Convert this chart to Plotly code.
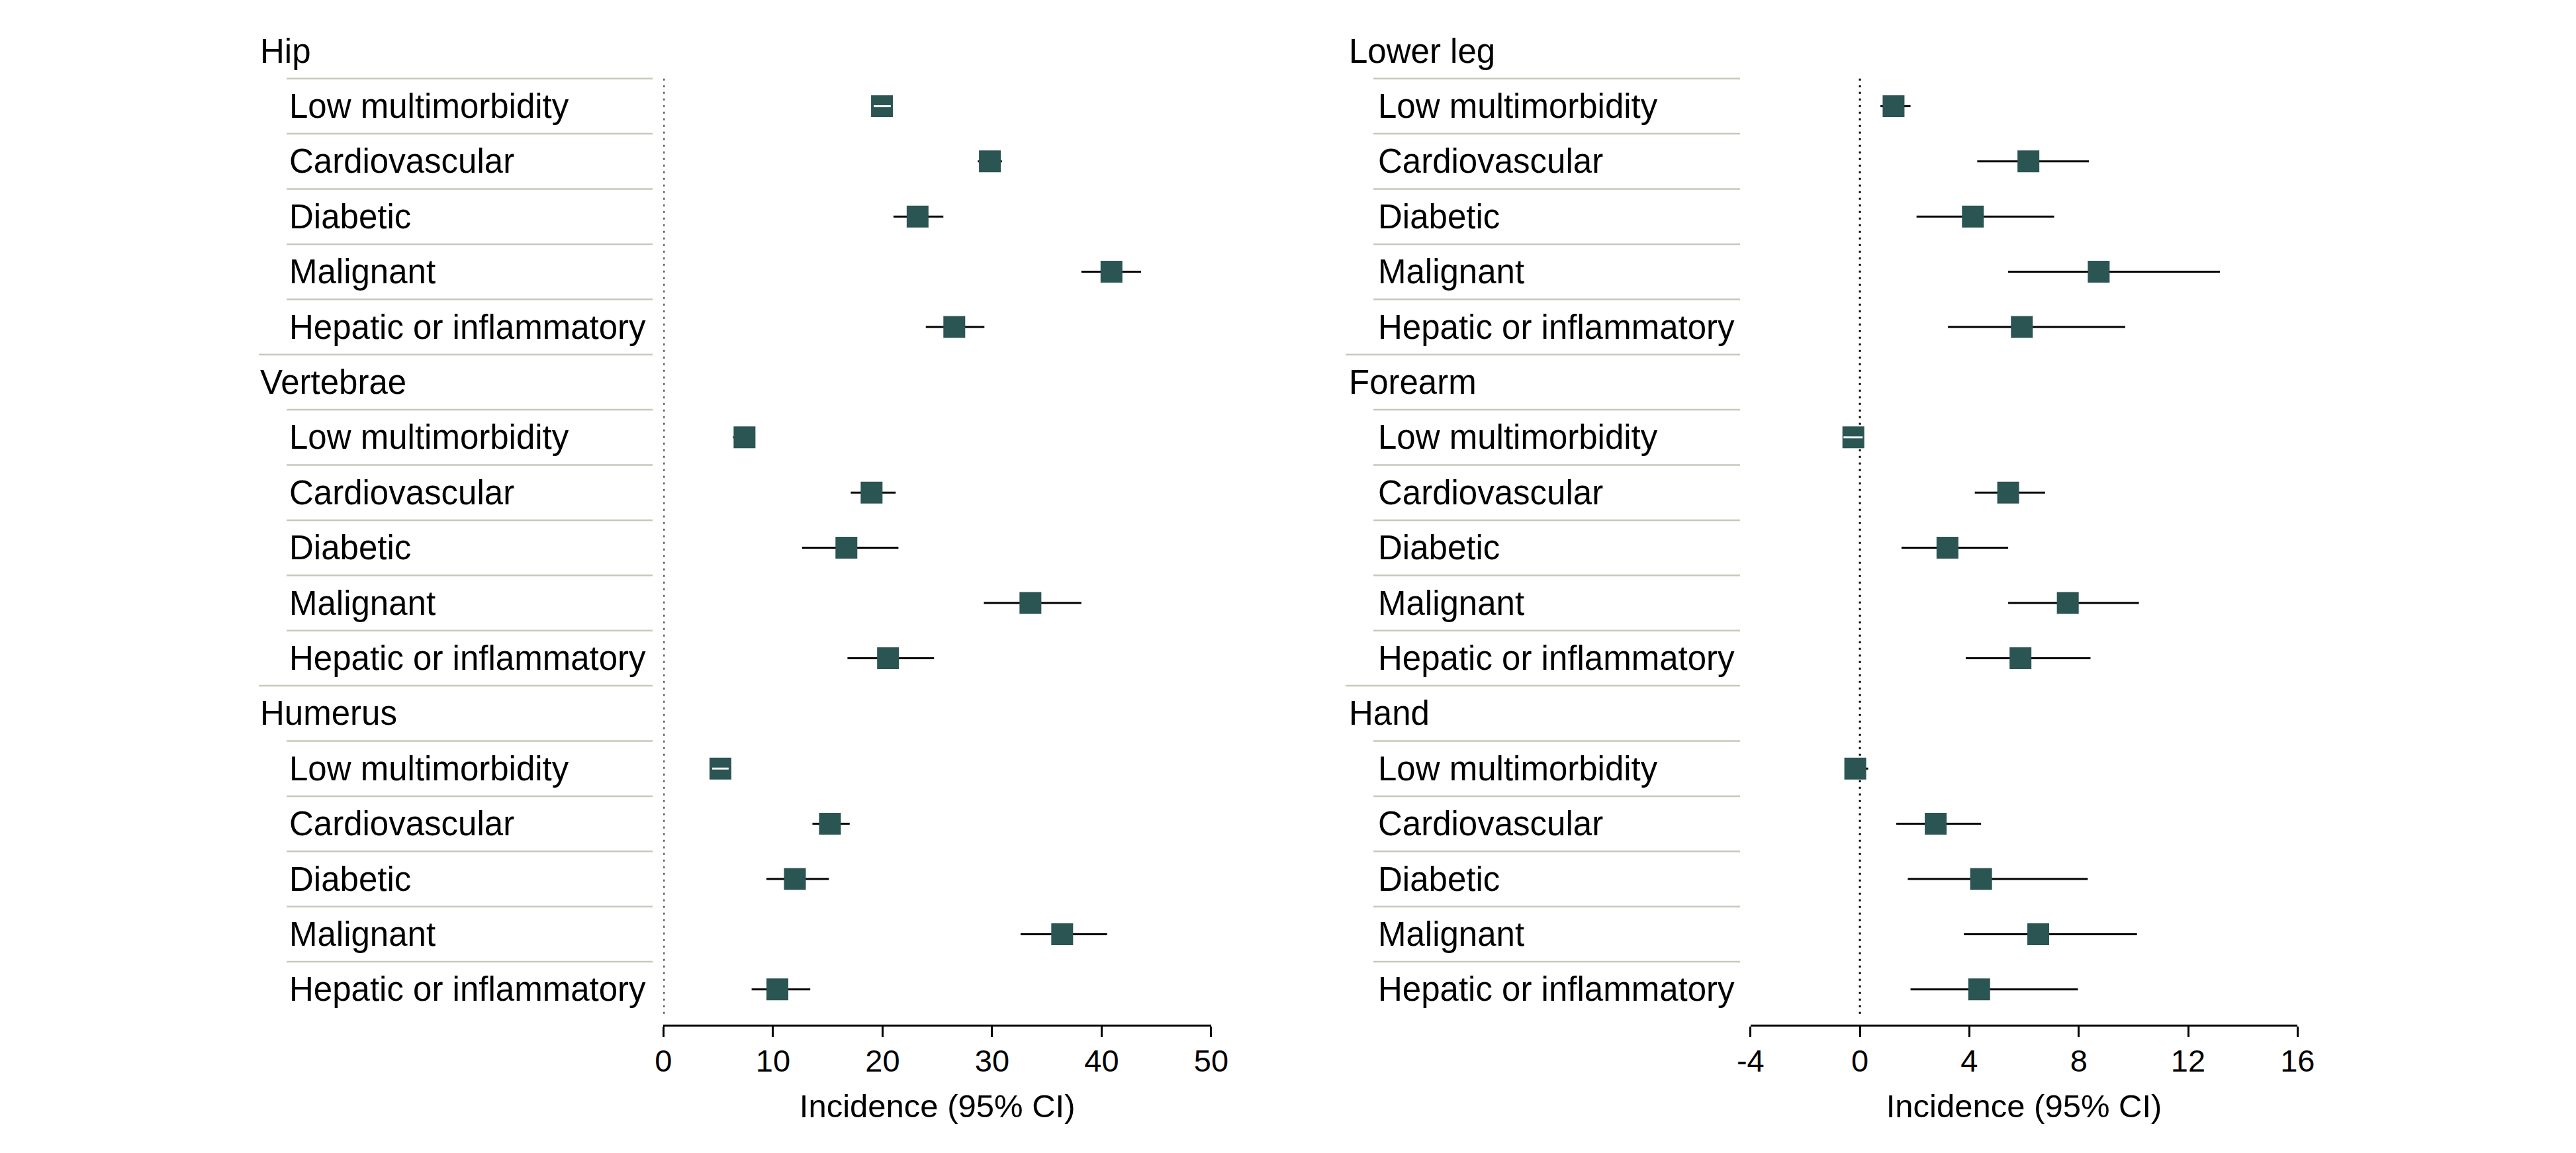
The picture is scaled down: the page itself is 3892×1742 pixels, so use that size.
import plotly.graph_objects as go

# ---------------- data ----------------
subgroups = ["Low multimorbidity", "Cardiovascular", "Diabetic", "Malignant", "Hepatic or inflammatory"]

left_sites = ["Hip", "Vertebrae", "Humerus"]
right_sites = ["Lower leg", "Forearm", "Hand"]

hip_est = [19.95, 29.8, 23.2, 40.9, 26.55]
hip_lo = [19.2, 28.7, 21.0, 38.15, 23.95]
hip_hi = [20.75, 30.9, 25.55, 43.6, 29.3]

vertebrae_est = [7.4, 19.0, 16.7, 33.5, 20.5]
vertebrae_lo = [6.35, 17.1, 12.65, 29.25, 16.8]
vertebrae_hi = [8.3, 21.2, 21.45, 38.15, 24.7]

humerus_est = [5.2, 15.2, 12.0, 36.4, 10.4]
humerus_lo = [4.45, 13.6, 9.4, 32.6, 8.05]
humerus_hi = [5.95, 17.0, 15.1, 40.5, 13.4]

lowerleg_est = [1.23, 6.16, 4.13, 8.73, 5.92]
lowerleg_lo = [0.75, 4.29, 2.07, 5.42, 3.22]
lowerleg_hi = [1.85, 8.37, 7.1, 13.16, 9.7]

forearm_est = [-0.24, 5.42, 3.2, 7.6, 5.87]
forearm_lo = [-0.6, 4.2, 1.52, 5.42, 3.87]
forearm_hi = [0.1, 6.77, 5.42, 10.2, 8.43]

hand_est = [-0.17, 2.77, 4.43, 6.52, 4.36]
hand_lo = [-0.5, 1.33, 1.75, 3.8, 1.85]
hand_hi = [0.3, 4.43, 8.33, 10.13, 7.97]

left_ticks = [0, 10, 20, 30, 40, 50]
left_ticktext = ["0", "10", "20", "30", "40", "50"]
right_ticks = [-4, 0, 4, 8, 12, 16]
right_ticktext = ["-4", "0", "4", "8", "12", "16"]
axis_title = "Incidence (95% CI)"

# ---------------- layout constants ----------------
W, H = 3892, 1742
OFF = 8                        # page body margin compensation
ROW0, ROWH = 77 - OFF, 83.4    # pixel y of first row, row pitch
AXIS_Y = 1548 - OFF            # pixel y of x axis line
Y_TOP = -ROW0 / ROWH
Y_BOT = (AXIS_Y - ROW0) / ROWH

FONT = "Liberation Sans, Arial, sans-serif"
MARKER_COLOR = "#2b5553"
SEP_COLOR = "#c6c9b9"
MSIZE = 33

panels = [
    dict(xa="x", sites=left_sites,
         est=[hip_est, vertebrae_est, humerus_est],
         lo=[hip_lo, vertebrae_lo, humerus_lo],
         hi=[hip_hi, vertebrae_hi, humerus_hi],
         px0=1002.4, px1=1829.9, rng=[0, 50],
         title_x=391, label_x=435, sep_long=391, sep_short=433, sep_end=986),
    dict(xa="x2", sites=right_sites,
         est=[lowerleg_est, forearm_est, hand_est],
         lo=[lowerleg_lo, forearm_lo, hand_lo],
         hi=[lowerleg_hi, forearm_hi, hand_hi],
         px0=2644.8, px1=3471.3, rng=[-4, 16],
         title_x=2036, label_x=2080, sep_long=2033, sep_short=2075, sep_end=2629),
]


def fx(px):
    return (px - OFF) / W


fig = go.Figure()
annotations = []
shapes = []

for p in panels:
    xs, ys, em, ep = [], [], [], []
    wx, wy = [], []
    units_per_px = (p["rng"][1] - p["rng"][0]) / (p["px1"] - p["px0"])
    half = MSIZE / 2 * units_per_px
    for g, site in enumerate(p["sites"]):
        trow = g * 6
        annotations.append(dict(text=site, xref="paper", yref="y", x=fx(p["title_x"]), y=trow,
                                xanchor="left", yanchor="middle", showarrow=False,
                                font=dict(family=FONT, size=51, color="black")))
        if g > 0:
            shapes.append(dict(type="line", xref="paper", yref="y",
                               x0=fx(p["sep_long"]), x1=fx(p["sep_end"]), y0=trow - 0.5, y1=trow - 0.5,
                               line=dict(color=SEP_COLOR, width=2.5)))
        for k, sub in enumerate(subgroups):
            r = trow + 1 + k
            annotations.append(dict(text=sub, xref="paper", yref="y", x=fx(p["label_x"]), y=r,
                                    xanchor="left", yanchor="middle", showarrow=False,
                                    font=dict(family=FONT, size=51, color="black")))
            shapes.append(dict(type="line", xref="paper", yref="y",
                               x0=fx(p["sep_short"]), x1=fx(p["sep_end"]), y0=r - 0.5, y1=r - 0.5,
                               line=dict(color=SEP_COLOR, width=2.5)))
            e, lo, hi = p["est"][g][k], p["lo"][g][k], p["hi"][g][k]
            xs.append(e); ys.append(r); em.append(e - lo); ep.append(hi - e)
            if lo > e - half and hi < e + half:
                wx += [lo, hi, None]; wy += [r, r, None]
    # dotted reference line at zero
    fig.add_trace(go.Scatter(x=[0, 0], y=[0.5, Y_BOT - 0.12], mode="lines", xaxis=p["xa"], yaxis="y",
                             line=dict(color="black", width=3, dash="3px,7px"),
                             hoverinfo="skip", showlegend=False, cliponaxis=False))
    fig.add_trace(go.Scatter(x=xs, y=ys, mode="markers", xaxis=p["xa"], yaxis="y",
                             marker=dict(symbol="square", size=MSIZE, color=MARKER_COLOR,
                                         line=dict(width=0)),
                             error_x=dict(type="data", symmetric=False, array=ep, arrayminus=em,
                                          color="black", thickness=3, width=0),
                             showlegend=False, cliponaxis=False))
    if wx:
        fig.add_trace(go.Scatter(x=wx, y=wy, mode="lines", xaxis=p["xa"], yaxis="y",
                                 line=dict(color="white", width=3), hoverinfo="skip",
                                 showlegend=False, cliponaxis=False))

axis_common = dict(showline=True, linecolor="black", linewidth=3, ticks="outside", ticklen=16,
                   tickwidth=3, tickcolor="black", showgrid=False, zeroline=False, anchor="y",
                   automargin=False, ticklabelstandoff=-4,
                   tickfont=dict(family=FONT, size=47, color="black"),
                   title=dict(text=axis_title, font=dict(family=FONT, size=49, color="black"), standoff=26))

fig.update_layout(
    template="none",
    width=W, height=H, autosize=False,
    margin=dict(l=0, r=0, t=0, b=0, pad=0),
    paper_bgcolor="white", plot_bgcolor="white",
    showlegend=False,
    xaxis=dict(domain=[fx(panels[0]["px0"]), fx(panels[0]["px1"])], range=panels[0]["rng"],
               tickvals=left_ticks, ticktext=left_ticktext, **axis_common),
    xaxis2=dict(domain=[fx(panels[1]["px0"]), fx(panels[1]["px1"])], range=panels[1]["rng"],
                tickvals=right_ticks, ticktext=right_ticktext, **axis_common),
    yaxis=dict(domain=[(H - AXIS_Y) / H, 1], range=[Y_BOT, Y_TOP], visible=False,
               fixedrange=True, automargin=False),
    annotations=annotations,
    shapes=shapes,
)

fig.write_html("out.html")
